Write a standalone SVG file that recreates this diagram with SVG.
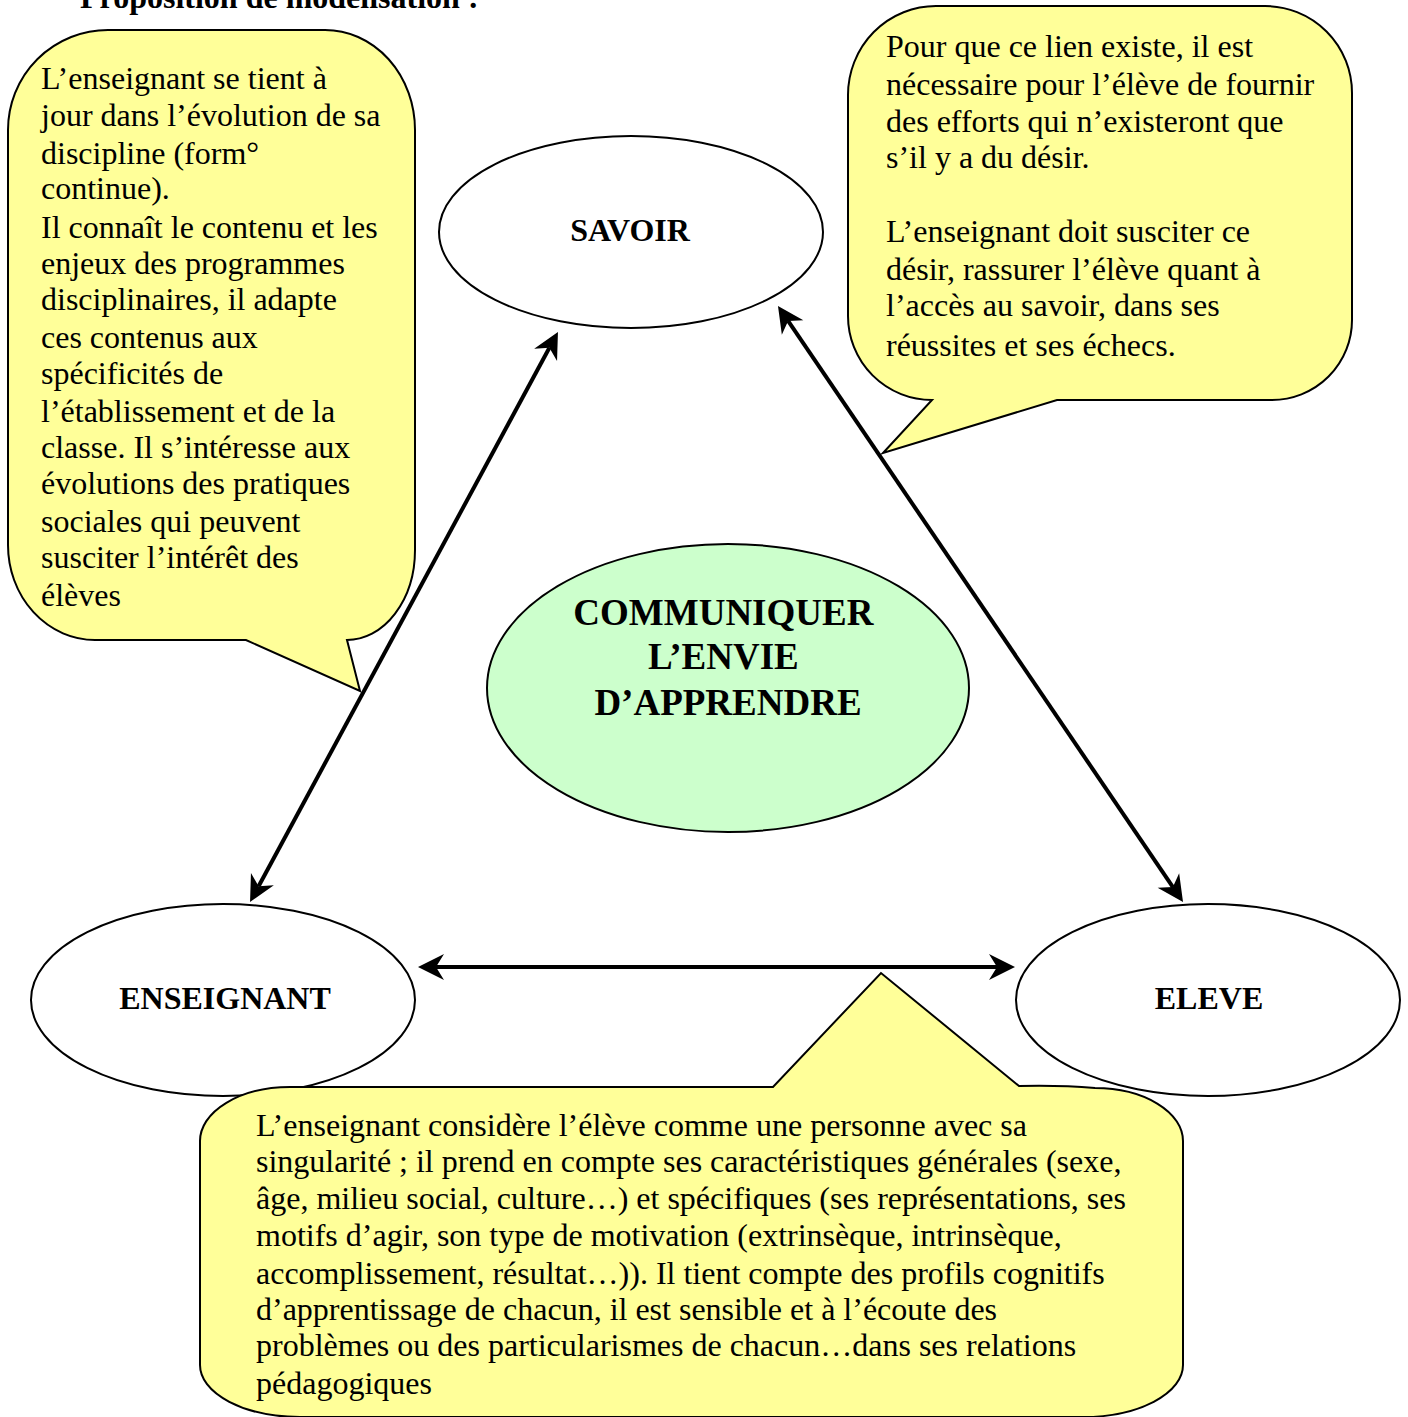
<svg xmlns="http://www.w3.org/2000/svg" width="1408" height="1417" viewBox="0 0 1408 1417">
<style>
.t{font-family:"Liberation Serif","Times New Roman",serif;font-size:32px;fill:#000}
.b{font-family:"Liberation Serif","Times New Roman",serif;font-size:32px;font-weight:bold;fill:#000}
.big{font-family:"Liberation Serif","Times New Roman",serif;font-size:37px;font-weight:bold;fill:#000}
.callout{fill:#ffff99;stroke:#000;stroke-width:2;stroke-linejoin:miter}
.node{fill:#fff;stroke:#000;stroke-width:2}
.conn{stroke:#000;stroke-width:4;fill:none;marker-start:url(#ah);marker-end:url(#ah)}
</style>
<defs>
<marker id="ah" markerUnits="userSpaceOnUse" viewBox="-10 -15 40 30" markerWidth="40" markerHeight="30" refX="0" refY="0" orient="auto-start-reverse" overflow="visible">
<path d="M18,0 L-8,-13 L0,0 L-8,13 Z" fill="#000"/>
</marker>
</defs>
<rect width="1408" height="1417" fill="#fff"/>
<text class="b" x="80" y="8">Proposition de modélisation :</text>

<g id="callout-left">
<path class="callout" d="M108,30 H325 A90,100 0 0 1 415,130 V550 A68,90 0 0 1 347,640 L360,691 L246,640 H95 A87,95 0 0 1 8,545 V130 A100,100 0 0 1 108,30 Z"/>
<text class="t" x="41">
<tspan x="41" y="89">L’enseignant se tient à</tspan>
<tspan x="41" y="126">jour dans l’évolution de sa</tspan>
<tspan x="41" y="164">discipline (form°</tspan>
<tspan x="41" y="199">continue).</tspan>
<tspan x="41" y="238">Il connaît le contenu et les</tspan>
<tspan x="41" y="274">enjeux des programmes</tspan>
<tspan x="41" y="310">disciplinaires, il adapte</tspan>
<tspan x="41" y="348">ces contenus aux</tspan>
<tspan x="41" y="384">spécificités de</tspan>
<tspan x="41" y="422">l’établissement et de la</tspan>
<tspan x="41" y="458">classe. Il s’intéresse aux</tspan>
<tspan x="41" y="494">évolutions des pratiques</tspan>
<tspan x="41" y="532">sociales qui peuvent</tspan>
<tspan x="41" y="568">susciter l’intérêt des</tspan>
<tspan x="41" y="606">élèves</tspan>
</text>
</g>

<g id="callout-right">
<path class="callout" d="M936,6 H1265 A87,87 0 0 1 1352,93 V320 A80,80 0 0 1 1272,400 H1057 L883,453 L932,400 A84,84 0 0 1 848,316 V95 A88,89 0 0 1 936,6 Z"/>
<text class="t">
<tspan x="886" y="57">Pour que ce lien existe, il est</tspan>
<tspan x="886" y="95">nécessaire pour l’élève de fournir</tspan>
<tspan x="886" y="132">des efforts qui n’existeront que</tspan>
<tspan x="886" y="168">s’il y a du désir.</tspan>
<tspan x="886" y="242">L’enseignant doit susciter ce</tspan>
<tspan x="886" y="280">désir, rassurer l’élève quant à</tspan>
<tspan x="886" y="316">l’accès au savoir, dans ses</tspan>
<tspan x="886" y="356">réussites et ses échecs.</tspan>
</text>
</g>

<g id="savoir">
<ellipse class="node" cx="631" cy="232" rx="192" ry="96"/>
<text class="b" x="630" y="241" text-anchor="middle">SAVOIR</text>
</g>

<g id="enseignant">
<ellipse class="node" cx="223" cy="1000" rx="192" ry="96"/>
<text class="b" x="225" y="1009" text-anchor="middle">ENSEIGNANT</text>
</g>

<g id="eleve">
<ellipse class="node" cx="1208" cy="1000" rx="192" ry="96"/>
<text class="b" x="1209" y="1009" text-anchor="middle">ELEVE</text>
</g>

<g id="callout-bottom">
<path class="callout" d="M290,1087 H773 L881,973 L1019,1086 Q1060,1085 1095,1088 A88,53 0 0 1 1183,1141 V1365 A100,52 0 0 1 1083,1417 H300 A100,52 0 0 1 200,1365 V1141 A90,54 0 0 1 290,1087 Z"/>
<text class="t">
<tspan x="256" y="1136">L’enseignant considère l’élève comme une personne avec sa</tspan>
<tspan x="256" y="1172">singularité ; il prend en compte ses caractéristiques générales (sexe,</tspan>
<tspan x="256" y="1209">âge, milieu social, culture…) et spécifiques (ses représentations, ses</tspan>
<tspan x="256" y="1246">motifs d’agir, son type de motivation (extrinsèque, intrinsèque,</tspan>
<tspan x="256" y="1284">accomplissement, résultat…)). Il tient compte des profils cognitifs</tspan>
<tspan x="256" y="1320">d’apprentissage de chacun, il est sensible et à l’écoute des</tspan>
<tspan x="256" y="1356">problèmes ou des particularismes de chacun…dans ses relations</tspan>
<tspan x="256" y="1394">pédagogiques</tspan>
</text>
</g>

<g id="centre">
<ellipse cx="728" cy="688" rx="241" ry="144" fill="#ccffcc" stroke="#000" stroke-width="2"/>
<text class="big" text-anchor="middle">
<tspan x="728" y="625">COMMUNIQUER</tspan>
<tspan x="728" y="669">L’ENVIE</tspan>
<tspan x="728" y="715">D’APPRENDRE</tspan>
</text>
</g>

<g id="connectors">
<line class="conn" x1="549.4" y1="347.8" x2="258.6" y2="886.2"/>
<line class="conn" x1="788.1" y1="320.9" x2="1172.9" y2="887.1"/>
<line class="conn" x1="436" y1="967" x2="997" y2="967"/>
</g>
</svg>
